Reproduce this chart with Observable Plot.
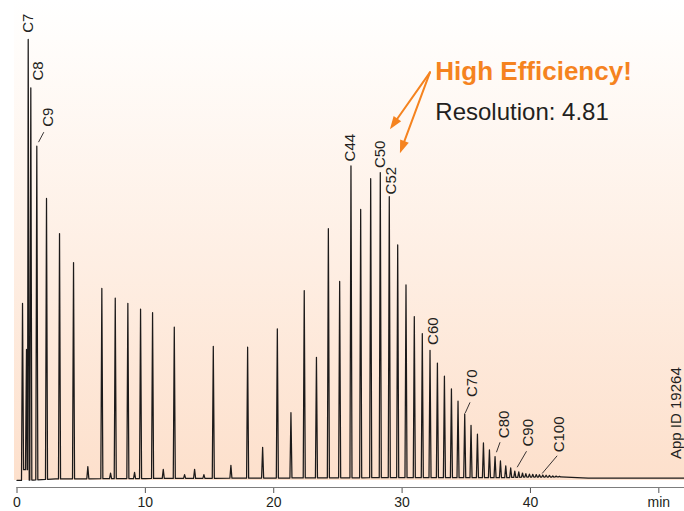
<!DOCTYPE html>
<html>
<head>
<meta charset="utf-8">
<script src="https://cdn.jsdelivr.net/npm/d3@7"></script>
<script src="https://cdn.jsdelivr.net/npm/@observablehq/plot@0.6"></script>
<style>
html, body { margin: 0; padding: 0; background: #fff; }
#chart { width: 684px; height: 511px; overflow: hidden; }
</style>
</head>
<body>
<div id="chart"></div>
<script>
// ---------------- DATA ----------------
// Peak retention times (min) and apex signal (relative, C7 = 100)
const peakTimes = [
  0.43, 0.74, 0.873, 1.076, 1.543, 2.299, 3.313, 4.404, 5.518, 6.609,
  7.288, 7.654, 8.636, 9.158, 9.626, 10.561, 11.395, 12.253, 13.055, 13.835,
  14.56, 15.292, 16.664, 17.966, 19.135, 20.281, 21.341, 22.377, 23.328, 24.256,
  25.136, 26.017, 26.773, 27.553, 28.301, 29.002, 29.657, 30.304, 30.951, 31.574,
  32.175, 32.751, 33.297, 33.843, 34.357, 34.879, 35.37, 35.869, 36.337, 36.804,
  37.241, 37.662, 38.075, 38.46, 38.78, 39.09, 39.38, 39.64, 39.92, 40.18,
  40.45, 40.70, 40.96, 41.22, 41.48, 41.74, 42.00, 42.26
];
const peakSignals = [
  39.9, 29.4, 100, 89.0, 75.7, 63.8, 55.8, 49.2, 2.7, 43.3,
  1.2, 41.1, 39.9, 1.4, 38.6, 37.8, 2.1, 34.5, 0.9, 2.1,
  0.9, 30.1, 3.0, 29.9, 7.1, 34.1, 15.0, 42.8, 27.6, 56.9,
  44.9, 71.2, 61.3, 68.3, 69.7, 64.2, 53.2, 44.1, 36.9, 33.0,
  29.2, 26.3, 23.3, 20.4, 17.6, 14.7, 12.1, 10.1, 8.1, 6.5,
  5.0, 4.0, 2.9, 2.4, 1.7, 1.5, 1.25, 1.1, 1.0, 0.95,
  0.9, 0.85, 0.8, 0.75, 0.7, 0.6, 0.55, 0.5
];
// Baseline (drift / solvent step) key points
const baselineTimes   = [0, 0.40, 0.45, 0.84, 0.92, 1.3, 3.0, 10, 20, 30, 38, 39.5, 42.3, 44.5, 52];
const baselineSignals = [-0.45, -0.45, 2.0, 2.0, -0.4, -0.35, -0.1, 0.0, 0.1, 0.2, 0.2, 0.3, 0.35, 0.1, 0.1];

// Peak labels and the retention time of the peak they mark
const labelNames = ["C7", "C8", "C9", "C44", "C50", "C52", "C60", "C70", "C80", "C90", "C100"];
const labelTimes = [0.873, 1.076, 1.543, 26.017, 28.301, 29.002, 32.175, 34.879, 37.241, 38.78, 40.70];

// Axis ticks
const xTicks = [0, 10, 20, 30, 40, 50];
const xTickLabels = ["0", "10", "20", "30", "40", "min"];

// Annotation texts
const titleText = "High Efficiency!";
const subtitleText = "Resolution: 4.81";
const appIdText = "App ID 19264";

// ---------------- LAYOUT ----------------
const W = 684, H = 511, mL = 16.5, mR = 0, mT = 0, mB = 24;
const xDomain = [0, 52], yDomain = [-2.05, 108.88];
const kx = (W - mL - mR) / (xDomain[1] - xDomain[0]);   // px per minute
const ky = (H - mT - mB) / (yDomain[1] - yDomain[0]);   // px per signal unit
const halfWidth = 0.08; // peak half-width at base (min)

// label text offsets (px) from peak apex: [dx to text centre, dy to text start]
const labelOffsets = [[-0.7,-6],[6.4,-6.6],[10.4,-18.7],[-1.1,-3.8],[-0.4,-3.7],[1.4,-1.5],[2.7,-4.7],[7,-16.3],[8.2,-17.7],[12.4,-23.8],[18.9,-21.7]];
// leader lines (px) from peak apex, null = none
const leaderOffsets = [null, null, [1.7,-4,7,-14], null, null, null, null, [0.5,-1,5.3,-11.6], [1.4,-4.3,5,-14.3], [2.4,-3.8,11.7,-19.8], [2.7,-1.3,17.7,-19]];

// annotation anchor positions (data units)
const titlePos = [32.59, 92.71];
const subtitlePos = [32.59, 83.30];
const appIdPos = [51.36, 4.44];
const arrowStart = [32.21, 92.41];
const arrowTips = [[29.09, 79.43], [29.87, 73.97]];

const orange = "#f5831f";
const ink = "#231f20";

// ---------------- TRACE ----------------
const baseline = d3.scaleLinear().domain(baselineTimes).range(baselineSignals).clamp(true);
const trace = [];
peakTimes.forEach((t, i) => {
  trace.push({t: t - halfWidth, v: baseline(t - halfWidth)});
  trace.push({t: t, v: peakSignals[i]});
  trace.push({t: t + halfWidth, v: baseline(t + halfWidth)});
});
baselineTimes.forEach((t, i) => {
  if (!peakTimes.some(p => Math.abs(p - t) <= halfWidth + 0.02)) trace.push({t, v: baselineSignals[i]});
});
trace.sort((a, b) => a.t - b.t);

// ---------------- LABELS ----------------
const labels = labelNames.map((name, i) => {
  const t = labelTimes[i];
  const apex = peakSignals[peakTimes.indexOf(t)];
  const [dx, dy] = labelOffsets[i];
  return {name, x: t + (dx + 0.5) / kx, y: apex - (dy - 0.7) / ky};
});
const leaders = [];
labelNames.forEach((name, i) => {
  const L = leaderOffsets[i];
  if (!L) return;
  const t = labelTimes[i];
  const apex = peakSignals[peakTimes.indexOf(t)];
  leaders.push({x1: t + L[0] / kx, y1: apex - L[1] / ky, x2: t + L[2] / kx, y2: apex - L[3] / ky});
});

const annotations = [
  {text: titleText, x: titlePos[0], y: titlePos[1]},
];
const annotations2 = [
  {text: subtitleText, x: subtitlePos[0], y: subtitlePos[1]},
];

const NS = "http://www.w3.org/2000/svg";
function pickScales(args) {
  for (const a of args) if (a && typeof a.x === "function" && typeof a.y === "function") return a;
  return args[1];
}
function pickDoc(args) {
  for (const a of args) if (a && a.document) return a.document;
  return document;
}

// background gradient panel
function backgroundMark(...args) {
  const s = pickScales(args), doc = pickDoc(args);
  const g = doc.createElementNS(NS, "g");
  const defs = doc.createElementNS(NS, "defs");
  const lg = doc.createElementNS(NS, "linearGradient");
  lg.setAttribute("id", "bgGrad");
  lg.setAttribute("x1", "0"); lg.setAttribute("y1", "0");
  lg.setAttribute("x2", "0"); lg.setAttribute("y2", "1");
  [["0", "#ffffff"], ["0.08", "#fffdfb"], ["1", "#fde0cc"]].forEach(([o, c]) => {
    const st = doc.createElementNS(NS, "stop");
    st.setAttribute("offset", o); st.setAttribute("stop-color", c);
    lg.appendChild(st);
  });
  defs.appendChild(lg);
  g.appendChild(defs);
  const r = doc.createElementNS(NS, "rect");
  const x0 = s.x(xDomain[0]) - 2.5, y1 = s.y(baselineSignals[0]);
  r.setAttribute("x", x0); r.setAttribute("y", 0);
  r.setAttribute("width", W - x0); r.setAttribute("height", y1);
  r.setAttribute("fill", "url(#bgGrad)");
  g.appendChild(r);
  return g;
}

// orange arrows with filled heads
function arrowMark(...args) {
  const s = pickScales(args), doc = pickDoc(args);
  const g = doc.createElementNS(NS, "g");
  const sx = s.x(arrowStart[0]), sy = s.y(arrowStart[1]);
  const headLen = 13, headHalf = 4.6;
  arrowTips.forEach(([tx, ty]) => {
    const px = s.x(tx), py = s.y(ty);
    const len = Math.hypot(px - sx, py - sy);
    const ux = (px - sx) / len, uy = (py - sy) / len;
    const bx = px - ux * headLen, by = py - uy * headLen;
    const nx = -uy, ny = ux;
    const line = doc.createElementNS(NS, "line");
    line.setAttribute("x1", sx); line.setAttribute("y1", sy);
    line.setAttribute("x2", bx + ux * 2); line.setAttribute("y2", by + uy * 2);
    line.setAttribute("stroke", orange); line.setAttribute("stroke-width", 2);
    line.setAttribute("stroke-linecap", "round");
    g.appendChild(line);
    const poly = doc.createElementNS(NS, "polygon");
    poly.setAttribute("points", `${px},${py} ${bx + nx * headHalf},${by + ny * headHalf} ${bx - nx * headHalf},${by - ny * headHalf}`);
    poly.setAttribute("fill", orange);
    g.appendChild(poly);
  });
  return g;
}

const font = "'Liberation Sans', Arial, Helvetica, sans-serif";

const chart = Plot.plot({
  width: W, height: H,
  marginLeft: mL, marginRight: mR, marginTop: mT, marginBottom: mB,
  style: {background: "#ffffff", fontFamily: font, fontSize: "14px", color: ink, overflow: "visible"},
  x: {domain: xDomain, ticks: xTicks, tickFormat: d => xTickLabels[xTicks.indexOf(d)], tickSize: 6, tickPadding: 4, label: null},
  y: {domain: yDomain, axis: null},
  marks: [
    backgroundMark,
    Plot.ruleY([yDomain[0]], {stroke: "#7d7d7d", strokeWidth: 1.2}),
    Plot.line(trace, {x: "t", y: "v", stroke: "#1c1a1a", strokeWidth: 1.25, curve: "linear"}),
    Plot.link(leaders, {x1: "x1", y1: "y1", x2: "x2", y2: "y2", stroke: ink, strokeWidth: 0.9}),
    Plot.text(labels, {x: "x", y: "y", text: "name", rotate: -90, textAnchor: "start", fontSize: 15, fill: ink}),
    Plot.text(annotations, {x: "x", y: "y", text: "text", textAnchor: "start", fontSize: 26, fontWeight: "bold", fill: orange}),
    Plot.text(annotations2, {x: "x", y: "y", text: "text", textAnchor: "start", fontSize: 24, fill: ink}),
    Plot.text([{text: appIdText, x: appIdPos[0], y: appIdPos[1]}], {x: "x", y: "y", text: "text", rotate: -90, textAnchor: "start", fontSize: 15, fill: ink}),
    arrowMark
  ]
});

chart.querySelectorAll('[aria-label^="x-axis"] line, [aria-label^="x-axis"] path').forEach(el => {
  el.setAttribute("stroke", "#555");
});
document.getElementById("chart").appendChild(chart);
</script>
</body>
</html>
